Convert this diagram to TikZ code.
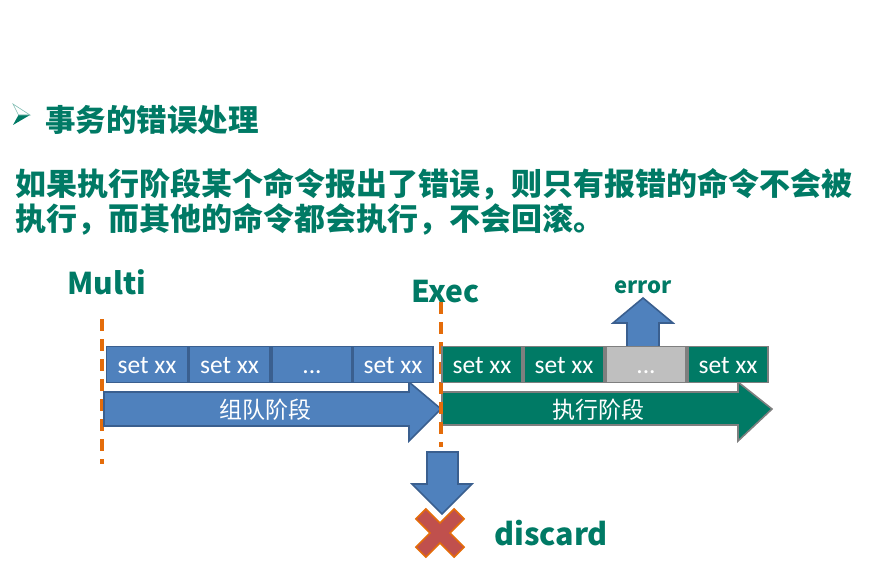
\documentclass[tikz,border=0pt]{standalone}
\usepackage{fontspec}
\newfontfamily\cjk{Noto Sans CJK SC}
\newcommand\cjkbold{\cjk\bfseries}
\newfontfamily\carlitofont{Carlito}
\definecolor{teal1}{HTML}{007A65}
\definecolor{bfill}{HTML}{4F81BD}
\definecolor{bline}{HTML}{3A5F8F}
\definecolor{gline}{HTML}{7F7F7F}
\definecolor{gbox}{HTML}{BFBFBF}
\definecolor{orng}{HTML}{E46C0A}
\definecolor{xred}{HTML}{C0504D}
\tikzset{
  cmdbox/.style={draw, line width=1.6pt, minimum width=80pt, minimum height=36pt, inner sep=0pt,
    text height=17pt, text depth=0pt,
    text=white, font=\carlitofont\fontsize{25.5}{25.5}\selectfont},
  bluebox/.style={cmdbox, fill=bfill, draw=bline},
  greenbox/.style={cmdbox, fill=teal1, draw=gline},
  greybox/.style={cmdbox, fill=gbox, draw=gline},
  blockarrowb/.style={fill=bfill, draw=bline, line width=1.6pt, line join=miter},
  blockarrowg/.style={fill=teal1, draw=gline, line width=1.6pt, line join=miter},
  phase/.style={text=white, font=\cjk\fontsize{23}{23}\selectfont, inner sep=0pt},
  label/.style={text=teal1, inner sep=0pt},
  marker/.style={draw=orng, line width=3.2pt, dash pattern=on 12pt off 8pt},
}
\begin{document}
\begin{tikzpicture}[x=1pt,y=-1pt]
\useasboundingbox (0,0) rectangle (878,569);
% bullet
\fill[teal1] (13,125) -- (30,115) -- (18.5,115) -- cycle;
\draw[teal1!50, line width=0.6pt] (13,104) -- (30,115) -- (18.5,115) -- cycle;
% title and paragraph
\node[label, anchor=west, font=\cjkbold\fontsize{30.5}{30.5}\selectfont] (title) at (45,120) {事务的错误处理};
\node[label, anchor=west, font=\cjkbold\fontsize{31}{31}\selectfont] (line1) at (15,184) {如果执行阶段某个命令报出了错误，则只有报错的命令不会被};
\node[label, anchor=west, font=\cjkbold\fontsize{31}{31}\selectfont] (line2) at (15,219) {执行，而其他的命令都会执行，不会回滚。};
% labels
\node[label, anchor=west, font=\cjkbold\fontsize{30}{30}\selectfont] (multi) at (67,282) {Multi};
\node[label, anchor=west, font=\cjkbold\fontsize{30}{30}\selectfont] (exec) at (411,292) {Exec};
\node[label, font=\cjkbold\fontsize{22}{22}\selectfont] (error) at (643,287) {error};
\node[label, anchor=west, font=\cjkbold\fontsize{30.5}{30.5}\selectfont] (discard) at (494,533) {discard};
% dashed markers
\coordinate (m1a) at (102,319); \coordinate (m1b) at (102,464);
\coordinate (m2a) at (441,302); \coordinate (m2b) at (441,447);
\draw[marker] (m1a) -- (m1b);
% blue arrow
\draw[blockarrowb] (104,392) -- (409,392) -- (409,382) -- (441,409) -- (409,441) -- (409,426) -- (104,426) -- cycle;
\node[phase] (queue) at (265,410) {组队阶段};
% green arrow
\draw[blockarrowg] (442,392) -- (738,392) -- (738,382) -- (772,409) -- (738,441) -- (738,425) -- (442,425) -- cycle;
\node[phase] (run) at (598,410) {执行阶段};
\draw[marker] (m2a) -- (m2b);
% up arrow
\draw[blockarrowb] (627,350) -- (627,323) -- (613,323) -- (643,298) -- (673,323) -- (659,323) -- (659,350);
% command boxes
\node[bluebox, minimum width=81pt] (b1) at (147,364.5) {set xx};
\node[bluebox, minimum width=81pt] (b2) at (229.5,364.5) {set xx};
\node[bluebox, minimum width=80pt] (b3) at (312,364.5) {...};
\node[bluebox, minimum width=80pt] (b4) at (393,364.5) {set xx};
\node[greenbox] (g1) at (482,364.5) {set xx};
\node[greenbox] (g2) at (564,364.5) {set xx};
\node[greybox] (g3) at (646,364.5) {...};
\node[greenbox] (g4) at (728,364.5) {set xx};
% down arrow
\draw[blockarrowb] (427,452) -- (458,452) -- (458,484) -- (472,484) -- (442,514) -- (412,484) -- (427,484) -- cycle;
% cross
\begin{scope}[shift={(440,533)}, rotate=45]
\draw[fill=xred, draw=orng, line width=1.6pt, line join=miter]
  (7,27) -- (7,7) -- (27,7) -- (27,-7) -- (7,-7) -- (7,-27) -- (-7,-27) -- (-7,-7) -- (-27,-7) -- (-27,7) -- (-7,7) -- (-7,27) -- cycle;
\end{scope}
\end{tikzpicture}
\end{document}
